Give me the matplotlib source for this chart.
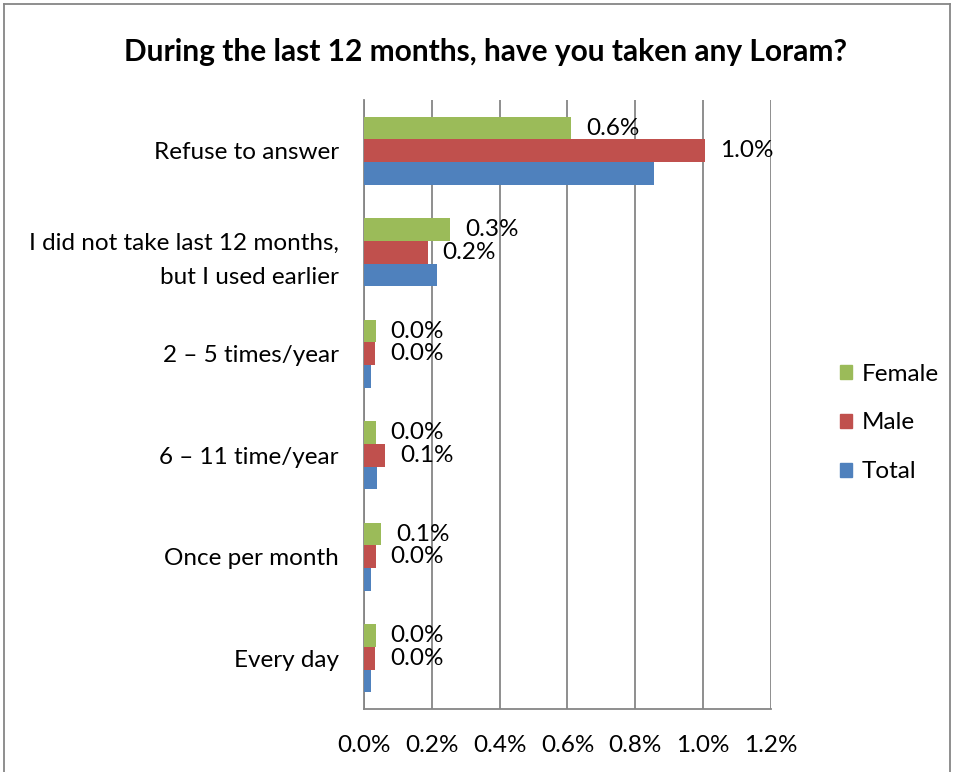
import matplotlib
matplotlib.use("Agg")
import matplotlib.pyplot as plt
from matplotlib.patches import Patch
from matplotlib.lines import Line2D
import numpy as np

categories = ["Refuse to answer", "I did not take last 12 months,\nbut I used earlier",
              "2 – 5 times/year", "6 – 11 time/year", "Once per month", "Every day"]
female = [0.61, 0.255, 0.034, 0.034, 0.051, 0.034]
male = [1.006, 0.188, 0.033, 0.063, 0.034, 0.032]
total = [0.855, 0.214, 0.020, 0.039, 0.020, 0.020]
xticks = [0.0, 0.2, 0.4, 0.6, 0.8, 1.0, 1.2]

FONT = "Lato"
c_f, c_m, c_t = "#9BBB59", "#C0504D", "#4F81BD"

fig = plt.figure(figsize=(9.54, 7.72), dpi=100)
ax = fig.add_axes([364/954, 63/772, 407/954, 609/772])

n = len(categories)
y = np.arange(n)[::-1].astype(float)
h = 0.222
ax.barh(y + h, female, height=h, color=c_f, label="Female", zorder=3)
ax.barh(y, male, height=h, color=c_m, label="Male", zorder=3)
ax.barh(y - h, total, height=h, color=c_t, label="Total", zorder=3)

for vals, off in ((female, h), (male, 0)):
    for yi, v in zip(y, vals):
        ax.text(v + 0.044, yi + off, f"{v:.1f}%", va="center", ha="left",
                fontsize=17.5, family=FONT, color="black", zorder=4)

ax.set_xlim(0, 1.2)
ax.set_ylim(-0.5, n - 0.5)
ax.set_xticks(xticks)
ax.set_xticklabels([f"{t:.1f}%" for t in xticks], family=FONT, fontsize=17.5)
ax.set_yticks(y)
ax.set_yticklabels(categories, family=FONT, fontsize=17.5, linespacing=1.75)
ax.tick_params(axis="x", length=0, pad=19)
ax.tick_params(axis="y", length=0, pad=18)
ax.grid(axis="x", color="#868686", linewidth=1.3, zorder=0)
for s in ("top", "right"):
    ax.spines[s].set_visible(False)
for s in ("left", "bottom"):
    ax.spines[s].set_color("#868686")
    ax.spines[s].set_linewidth(1.3)

handles = [Patch(color=c_f), Patch(color=c_m), Patch(color=c_t)]
fig.legend(handles, ["Female", "Male", "Total"], loc="center left",
           bbox_to_anchor=(840/954, 1 - 423/772), frameon=False,
           borderpad=0, borderaxespad=0,
           prop={"family": FONT, "size": 17.5}, handlelength=0.5, handleheight=0.5,
           handletextpad=0.4, labelspacing=1.15)

fig.text(485/954, 1 - 52/772, "During the last 12 months, have you taken any Loram?",
         ha="center", va="center", fontsize=21.5, fontweight="bold", family=FONT)

# chart frame
for xs, ys in (([4/954, 950/954], [1 - 4/772, 1 - 4/772]),
               ([4/954, 4/954], [0, 1 - 4/772]),
               ([950/954, 950/954], [0, 1 - 4/772])):
    fig.add_artist(Line2D(xs, ys, color="#868686", linewidth=1.3, transform=fig.transFigure))

fig.savefig("out.png", dpi=100)
